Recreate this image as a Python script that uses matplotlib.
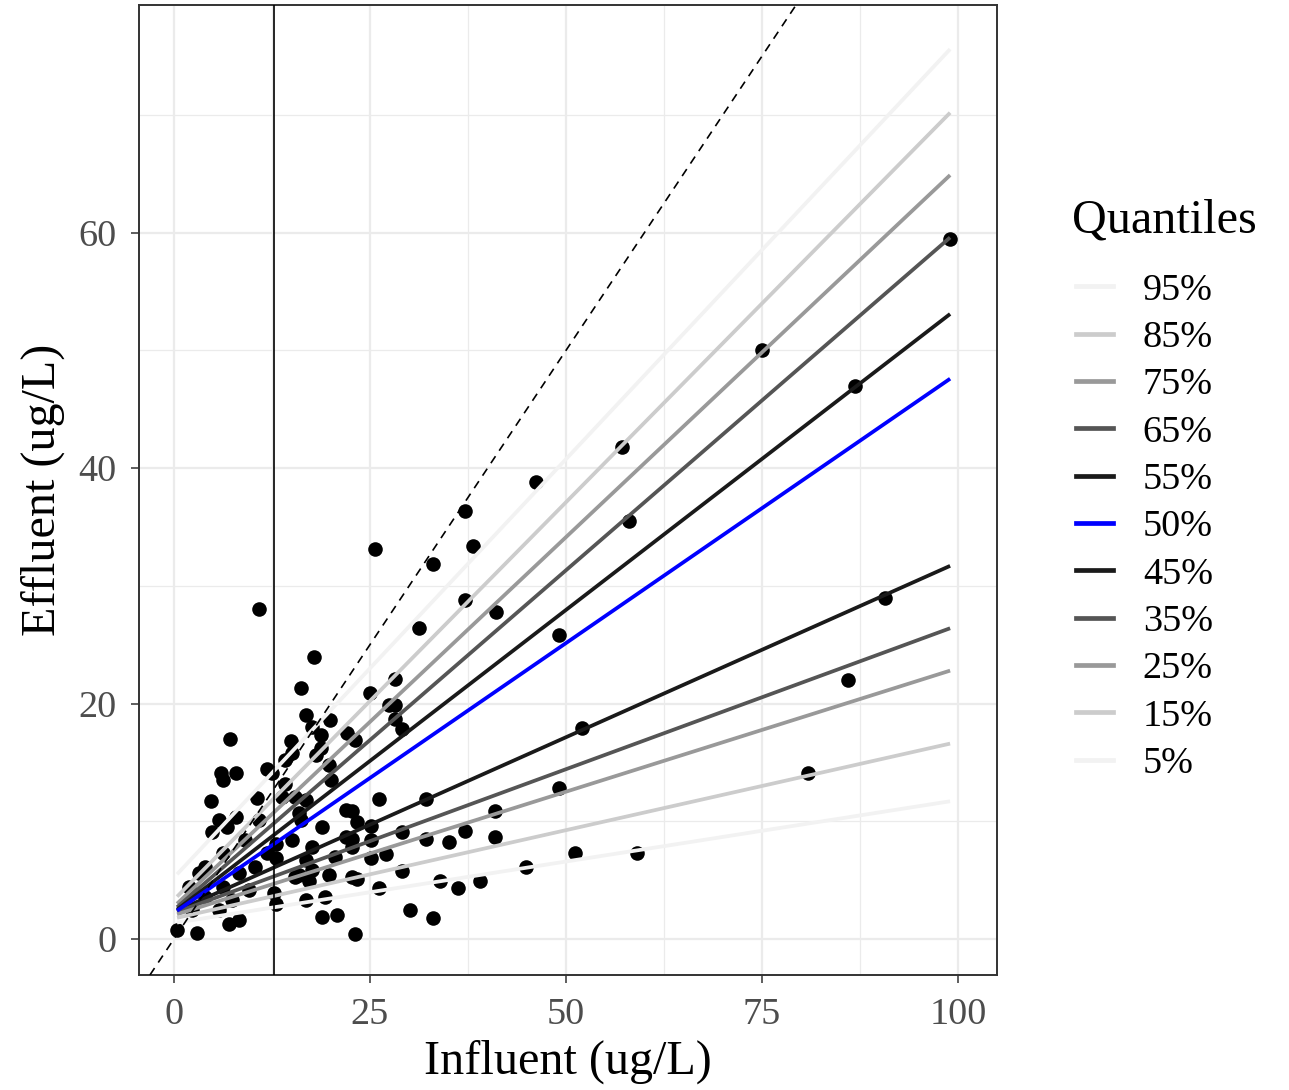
#!/usr/bin/env python3
# -*- coding: utf-8 -*-

'''Quantile regression lines of effluent vs influent concentration.
'''

import matplotlib
matplotlib.use('Agg')
import matplotlib.pyplot as plt
from matplotlib.lines import Line2D

plt.rcParams['font.family'] = ['Liberation Serif', 'DejaVu Serif']

influent = [99, 75, 86.9, 57.2, 46.2, 37.1, 38.2, 25.6, 33.1, 58.1,
            37.1, 41.1, 31.2, 49.1, 28.2, 25.0, 27.4, 28.2, 28.2, 29.1,
            23.1, 52.1, 90.7, 86.0, 80.9, 49.1, 26.1, 32.1, 22.7, 23.3,
            25.2, 41.0, 41.0, 29.1, 32.1, 35.1, 37.1, 25.2, 22.7, 25.2,
            27.1, 29.1, 51.1, 59.1, 44.9, 23.3, 26.1, 33.9, 36.2, 39.0,
            30.1, 33.1, 23.1,
            10.8, 17.9, 16.2, 19.9, 16.8, 17.6, 18.7, 14.9, 15.0, 22.1,
            18.7, 18.1, 7.2, 6.0, 6.2, 7.9, 11.9, 12.5, 19.8, 20.0,
            14.2, 4.7, 5.7, 4.9, 7.9, 6.8, 10.6, 16.8, 21.9, 18.9,
            21.9, 15.1, 13.0, 11.9, 16.8, 17.6, 15.9, 17.2, 19.8, 22.7,
            18.9, 20.8, 0.4, 3.0, 7.0, 8.3, 13.0, 12.8, 13.0, 14.2,
            15.5, 15.9, 17.6, 16.2, 10.4, 8.3, 6.2, 4.0, 9.6, 7.4,
            5.7, 2.3, 4.0, 6.2, 9.1, 10.8, 13.8, 1.9, 3.2, 19.3,
            16.8, 15.5, 20.6, 22.7]
effluent = [59.5, 50.0, 47.0, 41.8, 38.8, 36.4, 33.4, 33.1, 31.9, 35.5,
            28.8, 27.8, 26.4, 25.8, 22.1, 20.9, 19.9, 19.9, 18.7, 17.8,
            16.9, 17.9, 29.0, 22.0, 14.1, 12.8, 11.9, 11.9, 10.9, 9.9,
            9.6, 10.9, 8.7, 9.1, 8.5, 8.2, 9.2, 8.4, 8.5, 6.9,
            7.2, 5.8, 7.3, 7.3, 6.1, 5.1, 4.3, 4.9, 4.3, 4.9,
            2.5, 1.8, 0.4,
            28.0, 24.0, 21.3, 18.6, 19.0, 18.0, 17.3, 16.8, 15.8, 17.5,
            16.2, 15.6, 17.0, 14.1, 13.5, 14.1, 14.4, 14.1, 14.8, 13.5,
            13.2, 11.7, 10.1, 9.1, 10.4, 9.5, 12.0, 11.8, 11.0, 9.5,
            8.7, 8.4, 8.1, 7.3, 6.7, 5.9, 5.4, 4.9, 5.4, 5.3,
            1.9, 2.0, 0.8, 0.5, 1.3, 1.6, 3.0, 3.9, 6.9, 15.2,
            12.1, 10.7, 7.8, 10.1, 6.1, 5.6, 4.4, 3.6, 4.2, 3.3,
            2.5, 2.5, 6.1, 7.3, 8.4, 10.1, 12.1, 4.4, 5.6, 3.6,
            3.3, 5.3, 7.0, 7.8]

# Fitted quantile lines: value at the smallest and largest influent
quantiles = ['95%', '85%', '75%', '65%', '55%', '50%',
             '45%', '35%', '25%', '15%', '5%']
fit_x = [0.4, 99]
fit_start = [5.5, 3.6, 3.0, 2.7, 2.5, 2.4, 2.4, 2.3, 2.1, 1.8, 1.4]
fit_end = [75.6, 70.2, 64.9, 59.6, 53.1, 47.6, 31.7, 26.4, 22.8, 16.6, 11.7]
quant_colors = ['#F2F2F2', '#CCCCCC', '#999999', '#555555', '#1A1A1A', '#0000FF',
                '#1A1A1A', '#555555', '#999999', '#CCCCCC', '#F2F2F2']

threshold = 12.8

fig = plt.figure(figsize=(12.89, 10.90), dpi=100)
ax = fig.add_axes([0.1078, 0.1055, 0.6656, 0.8899])

# Points first, lines on top of them
ax.scatter(influent, effluent, s=110, color='black', linewidths=0, zorder=2)

handles = []
for lab, y0, y1, col in zip(quantiles, fit_start, fit_end, quant_colors):
	z = 4 if lab == '50%' else 3
	ax.plot(fit_x, [y0, y1], color=col, lw=2.7, zorder=z, solid_capstyle='butt')
	handles.append(Line2D([], [], color=col, lw=3.4, label=lab))

ax.axline((0, 0), slope=1, color='black', lw=1.2, ls=(0, (5, 4)), zorder=5)
ax.axvline(threshold, color='black', lw=1.2, zorder=5)

ax.set_xlim(-4.46, 104.97)
ax.set_ylim(-3.06, 79.35)
ax.set_xticks([0, 25, 50, 75, 100])
ax.set_xticks([12.5, 37.5, 62.5, 87.5], minor=True)
ax.set_yticks([0, 20, 40, 60])
ax.set_yticks([10, 30, 50, 70], minor=True)

ax.grid(which='major', color='#EBEBEB', lw=1.6, zorder=0)
ax.grid(which='minor', color='#EBEBEB', lw=0.9, zorder=0)
ax.set_axisbelow(True)

for sp in ax.spines.values():
	sp.set_color('#333333')
	sp.set_linewidth(1.4)
ax.tick_params(which='major', length=6, width=1.1, color='#333333',
               labelsize=27.5, labelcolor='#4D4D4D')
ax.tick_params(axis='x', which='major', pad=10)
ax.tick_params(axis='y', which='major', pad=10)
ax.tick_params(which='minor', length=0)

ax.set_xlabel('Influent (ug/L)', fontsize=34.7, labelpad=6)
ax.set_ylabel('Effluent (ug/L)', fontsize=34.7, labelpad=10)

# Legend title set apart, the way ggplot spaces it
fig.text(1072 / 1289, 1 - 220 / 1090, 'Quantiles', fontsize=34.7, va='center', ha='left')
leg = ax.legend(handles=handles, loc='upper left',
                bbox_to_anchor=(1076 / 1289, 1 - 273 / 1090),
                bbox_transform=fig.transFigure, frameon=False,
                fontsize=27.5, handlelength=0.97,
                handletextpad=0.78, labelspacing=0.33, borderpad=0,
                borderaxespad=0)

fig.savefig('out.png', dpi=100)
